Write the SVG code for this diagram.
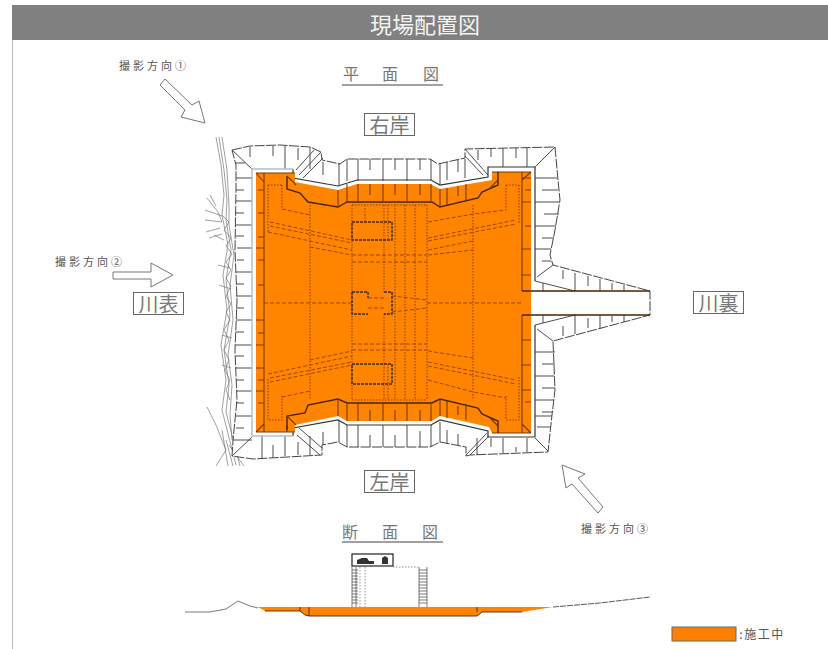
<svg xmlns="http://www.w3.org/2000/svg" width="828" height="649" viewBox="0 0 828 649">
<defs><filter id="soft" x="-5%" y="-5%" width="110%" height="110%"><feGaussianBlur stdDeviation="0.35"/></filter></defs>
<style>
text{font-family:"Noto Sans CJK JP","Noto Sans",sans-serif;fill:#444;text-anchor:middle;dominant-baseline:central}
.dir{font-size:11px;letter-spacing:3px;fill:#555}
.head{font-size:16px;fill:#777}
.lab{font-size:20px;fill:#777}
.box{fill:#fff;stroke:#666;stroke-width:1}
.ln{fill:none;stroke:#333;stroke-width:1.2}
.thin{fill:none;stroke:#444;stroke-width:.95}
.river{fill:none;stroke:#777;stroke-width:.7}
.ar{fill:#fff;stroke:#666;stroke-width:.9}
.dk{fill:none;stroke:#7a3800;stroke-width:1.1}
.dk2{fill:none;stroke:#953f00;stroke-width:1.1;stroke-dasharray:1.500 1.500}
.dk3{fill:none;stroke:#953f00;stroke-width:.9;stroke-dasharray:4 2}
.sd{fill:none;stroke:#4a2400;stroke-width:1.4}
</style>
<rect width="828" height="649" fill="#fff"/>
<rect x="12" y="5" width="816" height="35" fill="#808080"/>
<path d="M12.5 40V649" stroke="#bbb" stroke-width="1"/>
<text x="425" y="23" style="font-size:22px;fill:#f4f4f4">現場配置図</text>

<g id="river" filter="url(#soft)">
<path class="river" d="M216 137L221 165L224 195L222 215L228 245L223 275L227 310L221 345L226 380L222 410L236 465"/>
<path class="river" d="M219 137L224 170L227 200L226 220L231 250L226 280L230 315L224 350L229 385L226 412L240 466"/>
<path class="river" d="M222 137L227 170L229 205L229 225L234 255L230 285L233 320L228 355L232 385L230 415L232 440"/>
<path class="river" d="M207 198L218 212L222 222M205 210L222 216M205 220L222 222M214 235L224 240M218 265L230 268M219 285L231 289M222 335L232 338M222 365L231 368M207 407L216 425L226 450L216 466M222 430L228 466M226 440L233 466M229 445L244 466"/>
<path class="river" d="M222 215L229 222L224 230L231 238L226 246L232 254L226 262L231 270L226 278L231 286L226 296L231 304L226 312L230 320L224 330L229 340L224 350L229 360L225 370L230 380L226 390L230 400"/>
<path class="river" d="M210 195L216 206M206 232L220 228M209 238L222 234"/>
</g>

<g id="plan" filter="url(#soft)">
<path d="M232 150L250 146L280 145L310 147L321 152L322 160L340 164L347 159H430L438 164L465 158V149L555 147L558 180L560 200L555 230L550 255L553 265L650 291V315L553 341L555 390L552 415L548 452L470 455L466 456V447L440 442L430 447H347L338 442L322 445V455L253 459L232 456L233 440L237 400L235 350L237 300L235 250L236 190L236 165Z" fill="#fff" stroke="#444" stroke-width="1" stroke-dasharray="10 1.500"/>
<path class="thin" d="M250 147V157M273 146V156M285 146V169M298 148V160M310 147V169M232 150L252 169M321 152L299 175M323 158L303 178M314 150L296 170"/>
<path class="thin" d="M236 163H245M236 178H252M236 190H244M236 201H252M236 213H244M236 225H252M236 236H244M237 248H252M237 260H244M236 272H252M236 284H244M236 296H252M236 308H244M236 320H252M236 332H244M236 345H252M236 356H244M236 368H252M236 380H244M236 391H252M236 403H244M236 416H252M236 428H244M233 440H252"/>
<path class="thin" d="M339 163V186M323 162V175M347 159V181M358 159V181M370 159V170M383 159V181M395 159V170M407 159V181M420 159V170M431 159V180M440 163V185M447 162V180M458 160V172M465 159V178"/>
<path class="thin" d="M478 150V160M491 148V157M503 148V167M516 148V158M527 148V167M555 147L535 167M465 149L488 175M465 156L483 175"/>
<path class="thin" d="M535 178H557M542 190H558M535 202H559M544 214H559M535 226H556M542 238H554M535 249H551M542 261H551"/>
<path class="thin" d="M553 265L537 277M535 281L575 291M563 270V279M575 273V291M588 276V286M600 279V291M612 283V290M624 285V291M543 283V291"/>
<path class="thin" d="M535 325L575 315M563 326V336M575 315V334M588 318V328M600 315V329M612 316V322M624 315V322M553 341L537 329M543 315V323"/>
<path class="thin" d="M535 352H555M542 364H555M535 376H554M542 388H555M535 400H554M542 412H552M535 416H552M537 427H551M535 438L548 451"/>
<path class="thin" d="M527 438V452M516 447V452M503 438V453M491 438V447M477 438V455M466 455L487 433M470 455L489 436M458 434V446M447 430V444M440 422V442M431 425V447M420 431V447M407 425V447M395 435V447M383 425V447M370 435V447M358 425V447M347 425V447"/>
<path class="thin" d="M339 421V442M323 432V445M310 436V455M298 442V455M285 436V456M273 445V458M262 436V458M252 437L232 456M299 428L322 448M297 435L320 455"/>
<path class="ln" d="M535 281V167H488V177L440 185L431 180H357L338 186L293 178V169M293 436V428L338 420L347 425H431L440 420L488 431V437H535V325"/>
<path d="M293 169H252V436H293" stroke="#aebfcc" stroke-width="1.500" fill="none"/>
<path d="M256 173H295V182L338 190L357 184H430L440 189L492 180V172H531V433H492L489 427L440 416L432 421H347L338 416L295 425V432H256Z" fill="#ff8500"/>
<path class="dk" d="M256 173H295M492 172H531M264 173V432M522 172V291M522 315V433M256 173L264 182M256 432L264 424M531 172L522 180M531 433L522 424M287 432V425M256 432H295M492 433H531"/>
<path class="sd" d="M522 291H650M522 315H650"/>
<path class="dk" d="M258 190H264M258 213H264M258 237H264M256 248H264M258 260H264M258 285H264M256 320H264M258 333H264M256 345H264M256 368H264M258 380H264M256 391H264M258 403H264M522 178H531M525 190H531M522 202H531M525 226H531M522 249H531M522 275H531M522 340H531M522 365H531M522 390H531M525 402H531"/>
<path class="sd" d="M287 176V189L300 193L308 202L338 207L347 202H432L440 207L478 198L482 192L498 185V172M287 430V416L305 413L308 405L338 399L347 403H432L440 399L478 408L482 414L498 421V433"/>
<path class="dk" d="M287 176L296 185M287 416L296 425M498 180L490 188M490 418L498 426M338 190V207M338 399V416M347 184V202M347 403V421M358 184V202M370 184V195M383 184V202M395 184V195M407 184V202M420 184V195M431 184V202M440 189V207M447 188V205M458 186V196M466 184V201M358 403V421M370 410V421M383 403V421M395 410V421M407 403V421M420 410V421M431 403V421M440 399V416M447 401V418M458 406V415M466 404V420"/>
<path class="dk2" d="M268 185H282M268 185V232M282 185V209M268 379V420H282V396M506 185V210M519 185V223M506 185H519M519 377V420H506M506 396V420M310 205V400M473 205V400M352 205V400M427 205V400M352 205H427M352 400H427M365 205V222M384 205V240M388 205V240M395 205V400M384 240V292M384 314V364M384 364V400M388 364V400M405 205V400M415 205V400"/>
<path class="dk3" d="M282 209L310 215M310 247L352 255M270 222L352 240M270 226L352 243M268 232L352 250M282 397L310 391M310 360L352 351M270 382L352 365M270 378L352 362M268 374L352 356M428 222L473 214L506 210M428 238L516 220M428 241L516 224M428 250L473 241M428 255L473 250M428 351L473 358M428 366L516 384M428 362L516 380M428 380L473 392L506 398M264 303H352M427 303H522M352 262H427M352 344H427M352 255H427M352 350H427"/>
<path class="sd" d="M352 222H392V240H352ZM352 292H368V298M352 292V314H368M384 292H392V314H384M352 364H392V384H352Z" stroke-dasharray="3 1"/>
<path class="dk3" d="M368 298H384M368 308H384M392 296L427 300M392 312L427 308"/>
</g>

<g id="arrow-1"><path class="ar" d="M160 85L165 79L192 105L199 101L205 123L181 117L185 110Z"/></g>
<g id="arrow-2"><path class="ar" d="M113 272H151V263L173 275L151 287V279H113Z"/></g>
<g id="arrow-3"><path class="ar" d="M562 465L585 474L578 478L603 507L598 513L572 484L566 488Z"/></g>

<g id="section" filter="url(#soft)">
<path d="M258 607H553L522 612H482L477 616H309L305 615L300 611H265Z" fill="#ff8500"/>
<path class="sd" d="M265 611H300L305 615L309 616H477L482 612H522M300 607V611M309 607V616M477 607V612" style="stroke-width:.9"/>
<path d="M185 612L210 612L226 609L238 601L250 606L258 608" fill="none" stroke="#555" stroke-width=".8"/>
<path d="M553 607L600 603L650 597" fill="none" stroke="#444" stroke-width=".9" stroke-dasharray="6 1"/>
<rect x="352" y="554" width="41" height="12" fill="#fff" stroke="#222" stroke-width="1.200"/>
<path d="M357 564V560L362 558H367L369 561H374V564ZM382 564V558L385 556L388 558V564Z" fill="#333"/>
<path d="M365 567V607M360 567V607M393 567H418" fill="none" stroke="#777" stroke-width=".8" stroke-dasharray="1.500 1.500"/>
<path d="M352 567V607M356 567V607M419 567V607M427 567V607M352 570H358M352 573H358M352 576H358M352 579H358M352 582H358M352 585H358M352 588H358M352 591H358M352 594H358M352 597H358M352 600H358M352 603H358M419 570H427M419 573H427M419 576H427M419 579H427M419 582H427M419 585H427M419 588H427M419 591H427M419 594H427M419 597H427M419 600H427M419 603H427" fill="none" stroke="#444" stroke-width=".7"/>
</g>

<g id="label-plan"><text class="head" x="351" y="73">平</text><text class="head" x="390" y="73">面</text><text class="head" x="431" y="73">図</text><path d="M342 85H443" stroke="#444" stroke-width="1"/></g>
<g id="label-section"><text class="head" x="350" y="531">断</text><text class="head" x="390" y="531">面</text><text class="head" x="430" y="531">図</text><path d="M342 542H443" stroke="#444" stroke-width="1"/></g>
<g id="label-migi"><rect class="box" x="364.500" y="113.500" width="50" height="22"/><text class="lab" x="389.500" y="124">右岸</text></g>
<g id="label-hidari"><rect class="box" x="364.500" y="470.500" width="50" height="22"/><text class="lab" x="389.500" y="481">左岸</text></g>
<g id="label-kawaomote"><rect class="box" x="133.500" y="292.500" width="50" height="22"/><text class="lab" x="158.500" y="303">川表</text></g>
<g id="label-kawaura"><rect class="box" x="693.500" y="291.500" width="50" height="22"/><text class="lab" x="718.500" y="302">川裏</text></g>
<g id="label-dir1"><text class="dir" x="154" y="65">撮影方向①</text></g>
<g id="label-dir2"><text class="dir" x="90" y="261">撮影方向②</text></g>
<g id="label-dir3"><text class="dir" x="616" y="528">撮影方向③</text></g>
<g id="legend"><rect x="672" y="627" width="64" height="14" fill="#ff8000" stroke="#666" stroke-width="1"/><text x="762" y="633" style="font-size:12px;letter-spacing:1.500px;fill:#555">:施工中</text></g>
</svg>
